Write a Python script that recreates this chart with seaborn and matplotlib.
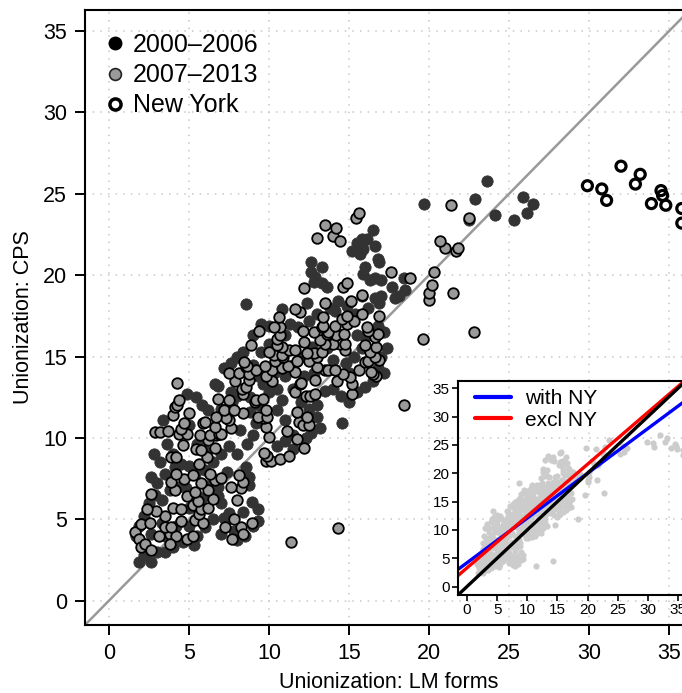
import numpy as np
import pandas as pd
import matplotlib
matplotlib.use("Agg")
import matplotlib.pyplot as plt
import seaborn as sns
from matplotlib.lines import Line2D

sns.set_style("white")
plt.rcParams['font.family'] = ['Liberation Sans', 'DejaVu Sans']
plt.rcParams['text.color'] = 'black'
plt.rcParams['axes.labelcolor'] = 'black'
plt.rcParams['xtick.color'] = 'black'
plt.rcParams['ytick.color'] = 'black'

# (LM forms, CPS) per state-year
early = [
    (1.9,2.35),(2.6,2.4),(2.2,2.8),(3.0,3.0),(3.5,3.0),(4.0,3.3),(4.6,3.6),(5.3,3.4),(2.1,3.5),(3.6,3.9),
    (1.7,4.0),(2.6,4.1),(4.2,4.6),(5.0,4.6),(5.5,4.0),(6.0,4.5),(1.9,4.6),(3.3,4.8),(2.2,5.2),(5.0,5.7),
    (6.5,5.0),(7.0,4.1),(7.8,4.3),(8.5,4.0),(8.0,3.7),(7.2,5.1),(7.5,5.4),(8.35,5.45),(9.3,4.9),(9.0,4.6),
    (9.3,5.6),(8.95,6.05),(7.0,6.0),(2.5,6.0),(3.3,6.2),(5.8,6.3),(6.8,6.4),(2.9,6.5),(3.8,6.8),(4.8,6.9),
    (4.3,7.0),(6.8,7.0),(8.75,7.1),(6.3,7.1),(3.0,7.2),(8.75,7.6),(2.6,7.6),(3.5,7.8),(5.4,7.8),(7.4,7.9),
    (6.0,8.0),(4.1,8.2),(8.55,8.2),(5.0,8.3),(4.5,8.4),(3.2,8.5),(6.5,8.5),(2.8,9.0),(4.0,9.0),(7.0,9.0),
    (8.0,9.0),(6.0,9.2),(7.5,9.5),(5.5,9.6),(3.6,9.65),(8.6,9.6),(9.0,10.2),(8.2,10.5),(5.0,10.8),(3.35,11.1),
    (9.2,10.9),(8.8,11.6),(6.2,11.7),(7.0,11.8),(5.8,12.0),(9.4,12.0),(7.7,12.2),(5.45,12.5),(8.8,12.5),(8.0,12.6),
    (4.9,12.7),(7.6,12.8),(6.8,13.2),(6.6,13.3),(7.2,14.3),(7.6,14.6),(8.0,15.0),(8.4,15.3),(9.0,14.5),(9.3,13.8),
    (9.6,13.3),(10.0,12.8),(10.5,13.0),(10.8,12.3),(10.5,11.7),(11.0,11.1),(11.5,10.2),(11.0,9.8),(10.5,9.5),(11.5,9.3),
    (12.3,10.0),(12.6,10.3),(13.2,10.6),(13.0,11.3),(12.5,11.8),(12.0,12.2),(11.5,13.0),(13.0,12.0),(13.5,12.9),(14.0,13.0),
    (14.5,12.6),(15.0,12.2),(15.5,12.8),(16.0,13.1),(16.5,13.5),(17.2,14.0),(16.8,14.3),(14.8,14.6),(14.0,14.8),(15.3,15.0),
    (17.0,15.0),(11.0,13.8),(11.5,14.5),(12.0,15.0),(9.5,15.3),(17.4,15.5),(15.8,15.5),(13.6,15.5),(12.7,15.6),(10.0,15.8),
    (16.0,16.2),(15.5,16.3),(11.0,16.3),(17.2,16.5),(16.8,16.9),(10.0,16.9),(9.5,17.0),(11.3,17.0),(12.5,17.2),(13.0,17.6),
    (15.4,17.6),(14.1,17.8),(10.8,17.9),(13.8,18.0),(16.2,18.0),(14.9,18.1),(8.55,18.2),(12.4,18.3),(16.9,18.3),(14.3,18.4),
    (17.9,18.6),(16.6,18.6),(17.0,18.7),(18.1,18.7),(15.8,18.75),(18.5,19.1),(13.6,19.3),(17.7,19.3),(13.3,19.5),(12.8,19.6),
    (16.3,19.7),(17.0,19.7),(18.45,19.8),(16.6,19.8),(12.9,19.9),(15.9,20.1),(12.6,20.2),(13.3,20.5),(16.0,20.5),(12.6,20.8),
    (16.9,20.8),(16.8,21.0),(15.7,21.3),(15.2,21.5),(15.9,21.6),(16.6,21.8),(15.5,22.0),(16.1,22.2),(15.8,22.25),(16.5,22.8),
    (22.5,23.4),(25.3,23.4),(24.1,23.7),(26.1,23.8),(19.7,24.4),(26.5,24.4),(22.9,24.7),(25.9,24.8),(23.6,25.8),(14.55,10.9),
    (10.3,14.0),(12.8,14.0),(13.8,16.3),(14.5,16.0),(12.2,13.8),(15.0,14.0),(9.0,16.3),(11.8,16.8),
]

late = [
    (1.6,4.2),(1.9,3.8),(2.0,3.3),(2.25,3.5),(2.65,3.1),(2.0,4.7),(2.55,4.8),(3.15,4.0),(3.8,4.1),(4.2,4.0),
    (3.8,3.5),(4.9,3.8),(5.25,4.0),(3.5,4.55),(3.9,4.5),(4.5,4.9),(5.35,4.95),(5.85,4.8),(5.65,5.3),(3.5,5.2),
    (2.95,5.5),(2.35,5.65),(4.0,5.7),(4.5,5.65),(5.25,5.85),(5.75,5.65),(6.2,5.7),(2.65,6.55),(5.55,6.15),(4.9,6.4),
    (6.5,6.25),(5.35,6.7),(6.2,6.8),(4.1,6.8),(5.75,7.2),(3.9,7.3),(4.7,7.5),(6.6,7.4),(7.0,7.55),(5.25,7.7),
    (4.2,7.8),(6.3,7.8),(5.65,8.4),(6.1,8.8),(3.9,8.85),(4.2,8.85),
    (7.25,4.5),(8.25,4.5),(7.7,3.8),(8.35,4.1),(7.8,5.0),(8.95,4.8),(8.0,6.2),(8.25,6.9),(7.6,7.0),(8.35,7.3),
    (8.15,7.7),
    (5.45,9.3),(5.75,9.25),(6.6,9.35),(4.6,9.55),(6.2,9.85),(5.7,10.15),(6.7,10.15),(6.3,10.15),(6.9,10.25),(7.0,10.25),
    (4.4,10.25),(4.9,10.25),(2.9,10.35),(3.2,10.35),(3.7,10.4),(4.5,10.55),(6.6,10.65),(7.6,10.6),(4.7,10.9),(5.9,10.9),
    (6.0,10.95),(7.5,11.1),(7.3,11.2),(6.7,11.3),(4.0,11.4),(5.0,11.5),(8.35,11.5),(7.2,11.7),(7.8,11.7),(4.1,11.9),
    (4.25,12.0),(9.1,12.2),(7.5,12.3),(9.2,12.35),(4.4,12.35),(9.6,12.4),(6.8,12.4),(8.4,12.7),(8.3,13.0),(8.55,13.1),
    (4.25,13.4),(7.9,13.5),(7.5,14.0),(8.1,14.0),(8.55,14.35),
    (9.8,8.6),(10.1,8.6),(10.7,8.7),(9.9,8.9),(11.25,8.9),(9.7,9.1),(12.2,9.4),(11.75,9.95),(10.0,10.05),(11.15,10.45),
    (9.8,10.65),(11.9,11.0),(12.1,10.8),(12.5,10.8),(9.7,11.25),(9.3,11.3),(9.9,11.3),(12.4,11.3),(11.75,11.6),(9.8,11.7),
    (12.3,12.6),(12.55,12.6),(11.65,12.8),(12.9,12.7),(15.2,12.7),(15.2,13.3),(11.95,13.3),(12.0,13.4),(14.25,13.5),(10.2,13.5),
    (12.9,13.55),(8.75,13.55),(15.05,13.75),(9.8,13.8),(16.7,13.8),(16.5,13.9),(8.75,13.95),(14.65,13.95),(11.65,14.05),(16.4,14.05),
    (13.5,14.15),(9.2,14.15),(13.7,14.15),(14.15,14.15),(15.6,14.15),(10.2,14.2),(10.8,14.3),(13.0,14.35),(11.2,14.4),(9.75,14.4),
    (8.65,14.4),(8.45,14.65),(16.0,14.65),(10.4,14.7),(16.2,14.7),(12.5,14.7),(11.75,14.7),(16.9,14.8),(16.6,15.0),(10.9,15.0),
    (13.0,15.0),(10.3,15.1),(10.8,15.1),(12.8,15.2),(12.4,15.2),(13.3,15.3),(16.3,15.3),(10.0,15.3),(11.25,15.4),(11.65,15.4),
    (14.75,15.4),(10.8,15.6),(16.7,15.6),(10.5,15.7),(8.85,15.7),(16.0,15.7),(14.45,15.8),(14.0,15.8),(13.5,15.8),(14.75,15.8),
    (12.2,15.9),(13.2,16.0),(10.5,16.1),(14.2,16.3),(10.7,16.3),(16.6,16.2),(13.6,16.4),(14.7,16.4),(16.8,16.4),(12.8,16.5),
    (13.7,16.5),(12.1,16.6),(9.4,16.6),(16.2,16.6),(10.7,16.8),(10.3,16.8),(13.3,16.8),(16.1,16.8),(13.4,16.9),(14.1,16.9),
    (14.9,17.0),(15.3,17.2),(14.55,17.3),(10.6,17.4),(13.4,17.4),(14.9,17.5),(16.9,17.5),(15.8,17.6),(11.95,17.75),(11.65,17.9),
    (13.5,18.3),(15.1,18.4),(15.8,18.8),(12.2,19.2),(14.6,19.3),(14.9,19.5),(18.8,19.8),(17.6,20.2),(13.0,22.3),(14.0,22.4),
    (14.45,22.1),(14.2,22.9),(13.5,23.1),(15.45,23.5),(15.6,23.8),
    (20.0,18.5),(20.0,18.9),(21.5,18.9),(20.2,19.4),(20.3,20.2),(21.7,21.5),(21.8,21.7),(21.0,21.7),(20.7,22.1),(22.5,23.5),
    (21.4,24.3),(19.6,16.1),(22.8,16.5),(18.45,12.0),(11.4,3.6),(14.3,4.45),
]

new_york = [
    (29.9,25.5),(30.8,25.3),(31.1,24.6),(32.0,26.7),(33.2,26.2),(32.9,25.6),(34.5,25.2),
    (34.6,24.9),(33.9,24.4),(34.8,24.3),(35.8,24.1),(35.8,23.2),(36.6,23.6),(37.2,24.0),
]

period_labels = ["2000\u20132006", "2007\u20132013", "New York"]
fit_labels = ["with NY", "excl NY"]
fit_intercepts = [4.2, 3.3]
fit_slopes = [0.79, 0.915]
fit_colors = ["#0000FF", "#FF0000"]
ticks = [0, 5, 10, 15, 20, 25, 30, 35]

early_lm, early_cps = map(list, zip(*early))
late_lm, late_cps = map(list, zip(*late))
ny_lm, ny_cps = map(list, zip(*new_york))

df = pd.DataFrame({
    "lm": early_lm + late_lm + ny_lm,
    "cps": early_cps + late_cps + ny_cps,
})

fig = plt.figure(figsize=(6.82, 6.93), dpi=100)
ax = fig.add_axes([85/682, 68/693, 608/682, 615/693])
ax.set_xlim(-1.5, 36.5)
ax.set_ylim(-1.5, 36.3)
ax.set_xticks(ticks)
ax.set_yticks(ticks)
ax.grid(True, color="#c8c8c8", linestyle=(0, (1, 4)), linewidth=1.1)
ax.set_axisbelow(True)
ax.axline((0, 0), slope=1, color="#999999", lw=1.8, zorder=1)

sns.scatterplot(x=early_lm, y=early_cps, ax=ax, color="#333333", edgecolor="#333333",
                s=66, linewidth=0.6, zorder=2)
sns.scatterplot(x=late_lm, y=late_cps, ax=ax, color="#9a9a9a", edgecolor="black",
                s=58, linewidth=1.3, zorder=3)
sns.scatterplot(x=ny_lm, y=ny_cps, ax=ax, facecolor="none", edgecolor="black",
                s=52, linewidth=2.3, zorder=4)

for sp in ax.spines.values():
    sp.set_linewidth(1.5)
    sp.set_color("black")
ax.tick_params(direction="out", length=7, width=1.4, labelsize=15.5, pad=6,
               bottom=True, left=True)
ax.set_xlabel("Unionization: LM forms", fontsize=15.5, labelpad=6)
ax.set_ylabel("Unionization: CPS", fontsize=15.5, labelpad=6)

handles = [
    Line2D([], [], marker="o", ls="", mfc="black", mec="black", ms=9, label=period_labels[0]),
    Line2D([], [], marker="o", ls="", mfc="#9a9a9a", mec="#222222", mew=1.2, ms=8.5, label=period_labels[1]),
    Line2D([], [], marker="o", ls="", mfc="white", mec="black", mew=2.5, ms=8, label=period_labels[2]),
]
ax.legend(handles=handles, loc="upper left", bbox_to_anchor=(107/682, 1 - 33/693),
          bbox_transform=fig.transFigure, frameon=False, fontsize=18, handlelength=0.6,
          handletextpad=0.45, labelspacing=0.25, borderpad=0, borderaxespad=0)

# inset with regression lines
ax2 = fig.add_axes([458/682, 98/693, 229/682, 214/693], facecolor="none")
ax2.set_xlim(-1.5, 36.5)
ax2.set_ylim(-1.5, 36.3)
sns.scatterplot(data=df, x="lm", y="cps", ax=ax2, color="#cccccc", edgecolor="#cccccc",
                s=20, linewidth=0, zorder=1)
for b0, b1, col, lab in zip(fit_intercepts, fit_slopes, fit_colors, fit_labels):
    ax2.axline((0, b0), slope=b1, color=col, lw=2.4, label=lab, zorder=2)
ax2.axline((0, 0), slope=1, color="black", lw=2.4, zorder=3)
ax2.set_xticks(ticks)
ax2.set_yticks(ticks)
ax2.set_xlabel("")
ax2.set_ylabel("")
for sp in ax2.spines.values():
    sp.set_linewidth(1.5)
    sp.set_color("black")
ax2.tick_params(direction="out", length=4, width=1.2, labelsize=11, pad=2,
                bottom=True, left=True)
fit_handles = [Line2D([], [], color=c, lw=3, label=l) for c, l in zip(fit_colors, fit_labels)]
ax2.legend(handles=fit_handles, loc="upper left", bbox_to_anchor=(475/682, 1 - 389/693),
           bbox_transform=fig.transFigure, frameon=False, fontsize=15, handlelength=1.75,
           handletextpad=0.65, labelspacing=0.12, borderpad=0, borderaxespad=0)

fig.savefig("out.png", dpi=100)
